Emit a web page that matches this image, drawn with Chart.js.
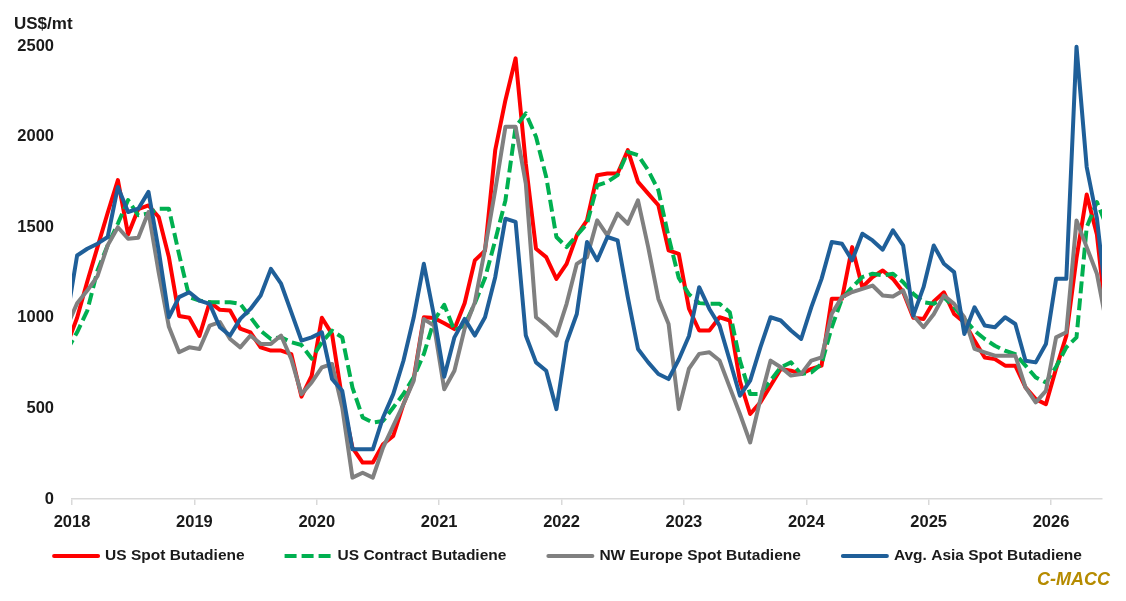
<!DOCTYPE html>
<html>
<head>
<meta charset="utf-8">
<script src="https://cdn.jsdelivr.net/npm/chart.js@4.4.1/dist/chart.umd.min.js"></script>
<style>
  html, body { margin: 0; padding: 0; background: #fff; }
  canvas { display: block; }
</style>
</head>
<body>
<canvas id="chart" width="1126" height="601"></canvas>
<script>
/* Monthly butadiene prices, US$/mt, Dec 2017 .. Jun 2026 */
const firstMonth = -1; // months counted from Jan 2018, first value is Dec 2017
const yearLabels = ['2018', '2019', '2020', '2021', '2022', '2023', '2024', '2025', '2026'];
const seriesNames = ['US Spot Butadiene', 'US Contract Butadiene', 'NW Europe Spot Butadiene', 'Avg. Asia Spot Butadiene'];

const usSpot = [850,
  1000, 1200, 1390, 1580, 1760, 1460, 1600, 1620, 1556, 1335, 1010, 1000,
  900, 1086, 1044, 1040, 940, 920, 837, 819, 819, 800, 565, 680,
  1000, 910, 550, 284, 201, 201, 302, 348, 523, 662, 1003, 999,
  970, 938, 1080, 1317, 1371, 1925, 2201, 2432, 1850, 1381, 1335, 1215,
  1298, 1455, 1538, 1787, 1796, 1796, 1925, 1750, 1685, 1621, 1372, 1353,
  1050, 930, 930, 1003, 985, 650, 469, 533, 625, 718, 708, 690,
  718, 736, 1105, 1105, 1390, 1169, 1225, 1261, 1215, 1142, 1000, 994,
  1090, 1141, 1021, 975, 874, 781, 772, 736, 736, 616, 551, 523,
  720, 900, 1330, 1680, 1460, 950];

const usContract = [820,
  920, 1040, 1261, 1400, 1520, 1650, 1566, 1575, 1602, 1602, 1350, 1114,
  1095, 1086, 1086, 1086, 1077, 1003, 929, 883, 893, 865, 850, 775,
  865, 929, 892, 615, 450, 422, 431, 505, 579, 671, 800, 984,
  1072, 929, 960, 1080, 1220, 1427, 1648, 2054, 2128, 1999, 1777, 1446,
  1390, 1455, 1519, 1731, 1750, 1787, 1916, 1897, 1814, 1704, 1446, 1220,
  1130, 1081, 1077, 1077, 1031, 764, 579, 579, 653, 727, 754, 690,
  699, 745, 948, 1105, 1169, 1225, 1243, 1234, 1243, 1197, 1132, 1086,
  1077, 1113, 1058, 994, 929, 883, 846, 818, 800, 736, 671, 643,
  730, 837, 892, 1500, 1639, 1500];

const nwEurope = [950,
  1080, 1150, 1230, 1400, 1500, 1436, 1442, 1584, 1250, 950, 810, 837,
  828, 957, 976, 883, 837, 902, 856, 856, 902, 773, 579, 643,
  726, 745, 505, 118, 145, 118, 284, 403, 523, 652, 993, 957,
  606, 708, 940, 1085, 1380, 1704, 2054, 2054, 1741, 1003, 957, 902,
  1077, 1298, 1335, 1538, 1455, 1575, 1519, 1648, 1390, 1104, 966, 496,
  720, 801, 810, 764, 616, 469, 312, 550, 764, 727, 681, 690,
  764, 782, 1022, 1114, 1142, 1160, 1178, 1123, 1118, 1151, 1013, 948,
  1020, 1123, 1077, 1003, 828, 809, 791, 791, 791, 616, 533, 597,
  892, 920, 1537, 1390, 1243, 950];

const asiaSpot = [1000,
  1344, 1381, 1409, 1446, 1722, 1584, 1602, 1695, 1372, 1003, 1114, 1141,
  1095, 1077, 948, 902, 994, 1049, 1123, 1270, 1188, 1031, 874, 892,
  920, 662, 597, 274, 274, 274, 450, 579, 763, 1000, 1298, 1010,
  675, 892, 994, 902, 1003, 1224, 1547, 1529, 902, 754, 708, 496,
  865, 1021, 1418, 1317, 1446, 1427, 1114, 828, 754, 690, 662, 770,
  900, 1169, 1049, 957, 764, 570, 653, 837, 1003, 985, 930, 883,
  1059, 1215, 1418, 1409, 1317, 1464, 1427, 1376, 1483, 1400, 1013, 1169,
  1399, 1298, 1252, 911, 1058, 957, 948, 1003, 966, 763, 754, 855,
  1215, 1215, 2496, 1832, 1550, 1050];

/* values are mid-month, axis starts on Jan 1 2018 */
function toPoints(values) {
    return values.map((v, k) => ({ x: firstMonth + k + 0.5, y: v }));
}

const FONT = '"Liberation Sans", Arial, sans-serif';
const TEXT = '#1a1a1a';

/* legend, unit label and source mark */
const extras = {
    id: 'extras',
    afterDraw(chart) {
        const ctx = chart.ctx;
        ctx.save();
        ctx.fillStyle = TEXT;
        ctx.textBaseline = 'middle';
        ctx.font = 'bold 17px ' + FONT;
        ctx.fillText('US$/mt', 14, 24);

        ctx.font = 'bold 15.5px ' + FONT;
        const sets = chart.data.datasets;
        const widths = sets.map(ds => 48 + 5 + ctx.measureText(ds.label).width);
        const gap = 40;
        const total = widths.reduce((a, b) => a + b, 0) + gap * (sets.length - 1);
        let x = 567 - total / 2;
        const ly = 556;
        sets.forEach((ds, i) => {
            ctx.beginPath();
            ctx.strokeStyle = ds.borderColor;
            ctx.lineWidth = ds.borderWidth;
            if (ds.borderDash) {
                ctx.setLineDash(ds.borderDash);
                ctx.lineCap = 'butt';
                ctx.moveTo(x, ly);
                ctx.lineTo(x + 48, ly);
            } else {
                ctx.setLineDash([]);
                ctx.lineCap = 'round';
                ctx.moveTo(x + 2, ly);
                ctx.lineTo(x + 46, ly);
            }
            ctx.stroke();
            ctx.setLineDash([]);
            ctx.fillStyle = TEXT;
            ctx.fillText(ds.label, x + 53, ly);
            x += widths[i] + gap;
        });

        ctx.font = 'italic bold 18px ' + FONT;
        ctx.fillStyle = '#B58B00';
        ctx.textAlign = 'right';
        ctx.fillText('C-MACC', 1110, 580);
        ctx.restore();
    }
};

const ctx = document.getElementById('chart').getContext('2d');

const chart = new Chart(ctx, {
    type: 'line',
    data: {
        datasets: [
            { label: seriesNames[0], data: toPoints(usSpot), borderColor: '#FF0000', borderWidth: 4, order: 4 },
            { label: seriesNames[1], data: toPoints(usContract), borderColor: '#00B050', borderWidth: 4,
              borderDash: [12, 5], borderCapStyle: 'butt', order: 3 },
            { label: seriesNames[2], data: toPoints(nwEurope), borderColor: '#808080', borderWidth: 4, order: 2 },
            { label: seriesNames[3], data: toPoints(asiaSpot), borderColor: '#1F5F99', borderWidth: 4, order: 1 }
        ]
    },
    options: {
        responsive: false,
        animation: false,
        layout: { padding: { top: 46, right: 24, bottom: 0, left: 0 } },
        datasets: {
            line: {
                pointRadius: 0,
                tension: 0,
                fill: false,
                borderJoinStyle: 'round',
                clip: { left: 0, right: 0, top: 3, bottom: 3 }
            }
        },
        plugins: {
            legend: { display: false },
            tooltip: { enabled: false }
        },
        scales: {
            x: {
                type: 'linear',
                min: 0,
                max: 101,
                grid: { drawOnChartArea: false, drawTicks: true, tickLength: 6, color: '#D9D9D9', lineWidth: 1.5 },
                border: { display: true, color: '#D9D9D9', width: 1.5 },
                ticks: {
                    stepSize: 12,
                    includeBounds: false,
                    autoSkip: false,
                    maxRotation: 0,
                    padding: 8,
                    color: TEXT,
                    font: { family: FONT, size: 16.5, weight: 'bold' },
                    callback: v => yearLabels[v / 12]
                },
                afterFit: s => { s.height = 102; }
            },
            y: {
                min: 0,
                max: 2500,
                grid: { display: false, drawTicks: false },
                border: { display: false },
                ticks: {
                    stepSize: 500,
                    padding: 18,
                    color: TEXT,
                    font: { family: FONT, size: 16.5, weight: 'bold' },
                    callback: v => String(v)
                },
                afterFit: s => { s.width = 72; }
            }
        }
    },
    plugins: [extras]
});
</script>
</body>
</html>
